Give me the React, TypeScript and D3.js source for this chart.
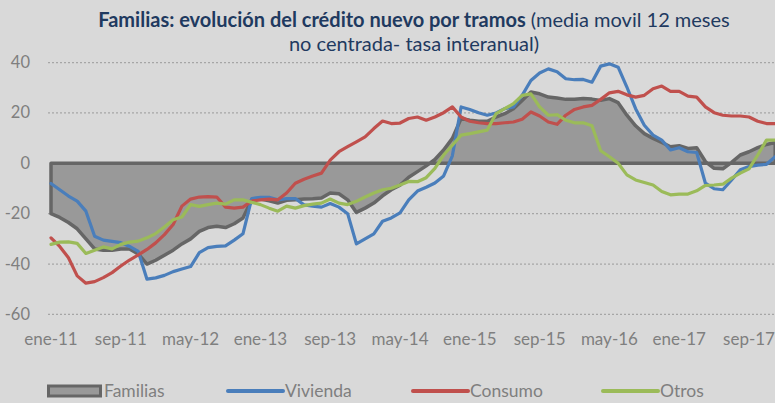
import React from 'react';
import * as d3 from 'd3';

const MONTHS = ['ene', 'feb', 'mar', 'abr', 'may', 'jun', 'jul', 'ago', 'sep', 'oct', 'nov', 'dic'];
// monthly periods ene-11 .. dic-17
const periods = d3.range(84).map((i) => `${MONTHS[i % 12]}-${11 + Math.floor(i / 12)}`);
const tickLabels = ['ene-11', 'sep-11', 'may-12', 'ene-13', 'sep-13', 'may-14', 'ene-15', 'sep-15', 'may-16', 'ene-17', 'sep-17'];
const yTicks = [-60, -40, -20, 0, 20, 40];

const familias = [
  -20, -21.5, -23.5, -26, -30, -34, -34.5, -34.5, -34, -34, -36, -40,
  -38.5, -36.5, -34.5, -32, -30, -27, -25.5, -25, -25.5, -24, -21.7, -14.5,
  -14.2, -14.9, -15.8, -14.7, -14.5, -14.2, -14.1, -13.8, -11.8, -12.1, -14.5, -19.5,
  -17.8, -15.8, -12.9, -10.5, -8.7, -5.5, -3.3, -1, 1.5, 5.3, 9.9, 17.8,
  17.1, 16.7, 16.7, 18.4, 19.7, 21.7, 25, 28.3, 27.6, 26.3, 25.9, 25.4,
  25.4, 25.7, 25.5, 25, 25.7, 24.1, 19.1, 14.9, 11.8, 9.9, 8.3, 6.6,
  7, 5.9, 6.2, 0.7, -2, -2.2, 0.4, 3.3, 4.6, 6.2, 7.5, 8.3
];
const vivienda = [
  -8, -10.5, -13, -15, -19, -29, -30.5, -31, -31.5, -33, -35, -46,
  -45.5, -44.5, -43, -42, -41, -35.5, -33.5, -33, -32.8, -30.5, -28, -14,
  -13.5, -13.5, -14.5, -14, -14, -16.5, -17, -17.4, -16, -17.4, -20, -32,
  -30, -28, -23, -21.7, -19.7, -14.5, -11, -9.5, -7.8, -5, 3, 22.4,
  21.4, 20.1, 19.1, 20, 21.7, 22.4, 27, 32.9, 35.9, 37.5, 36.4, 33.6,
  33.2, 33.3, 32.2, 38.6, 39.5, 38.2, 30.3, 21.7, 15.1, 11.2, 9.2, 5.3,
  6.2, 4.6, 4.3, -7.9, -10.1, -10.5, -6.6, -2.6, -1.3, -0.7, -0.4, 2.6
];
const consumo = [
  -29.6, -33, -37.5, -44.7, -47.6, -47, -45.4, -43.4, -40.8, -38.4, -36.4, -34.2,
  -31.6, -28.3, -24.3, -17, -14.2, -13.4, -13.2, -13.4, -17.4, -17.8, -17.4, -15,
  -14.5, -14.2, -14.5, -11.8, -7.9, -6.3, -5, -3.9, 1.3, 4.6, 6.6, 8.5,
  10.5, 13.8, 16.8, 15.8, 16, 17.8, 18.4, 17.1, 18.4, 20.1, 22.4, 18.4,
  16.7, 16.1, 15.8, 15.8, 16.1, 16.4, 17.5, 20.4, 18.8, 16.4, 15.5, 19.1,
  21.4, 22.4, 23, 25.4, 28, 28.6, 27.2, 26.3, 27, 29.6, 30.7, 28.6,
  28.6, 26.7, 26.3, 22.4, 20.1, 19.1, 18.8, 18.8, 18.4, 16.7, 15.8, 15.8
];
const otros = [
  -32.2, -31.3, -31.2, -31.8, -35.8, -34.5, -33.2, -34, -32.2, -31.3, -30.9, -29.6,
  -27.9, -25.3, -22.4, -21.3, -16.4, -17.1, -16.4, -15.8, -16.2, -14.5, -14.5, -15.5,
  -16.4, -17.8, -19, -17, -17.8, -16.8, -16.2, -15.8, -14.2, -15.8, -16.4, -15.1,
  -13.4, -11.8, -10.5, -9.9, -8.6, -7.2, -7.3, -5.7, -2, 3.3, 7.2, 11.2,
  11.8, 12.5, 13.2, 19.7, 21.7, 23.7, 27, 27.6, 22.4, 19.1, 19.3, 17.1,
  16.1, 16.1, 14.9, 5, 2.6, 0, -4.6, -6.6, -7.6, -8.6, -11.2, -12.5,
  -12.2, -12.2, -10.9, -8.8, -8.6, -8.3, -5.9, -3.9, -2.2, 3.3, 9.2, 9.2
];

const lineSeries = [
  { name: 'Vivienda', values: vivienda, color: '#4A7EBB' },
  { name: 'Consumo', values: consumo, color: '#C0504D' },
  { name: 'Otros', values: otros, color: '#9BBB59' }
];

const W = 775;
const H = 403;
const FONT = 'Lato, "Open Sans", sans-serif';
const AXIS_COLOR = '#7F7F7F';
const TITLE_COLOR = '#1F3A60';

const App = () => {
  const x = d3.scalePoint<string>().domain(periods).range([51, 775.2]);
  const y = d3.scaleLinear().domain([-60, 40]).range([314.4, 62.6]);

  const area = d3
    .area<number>()
    .x((_, i) => x(periods[i]) as number)
    .y0(y(0))
    .y1((d) => y(d));

  const line = d3
    .line<number>()
    .x((_, i) => x(periods[i]) as number)
    .y((d) => y(d));

  const legend = [
    { name: 'Familias', x: 47, type: 'area', color: '#999999' },
    { name: 'Vivienda', x: 228, type: 'line', color: '#4A7EBB' },
    { name: 'Consumo', x: 413, type: 'line', color: '#C0504D' },
    { name: 'Otros', x: 603, type: 'line', color: '#9BBB59' }
  ];

  return (
    <svg
      width={W}
      height={H}
      style={{ position: 'absolute', left: 0, top: 0, background: '#D9D9D9' }}
      fontFamily={FONT}
    >
      <rect width={W} height={H} fill="#D9D9D9" />

      {/* title */}
      <text x={414} y={27} textAnchor="middle" fontSize={20} fill={TITLE_COLOR}>
        <tspan fontWeight="bold">Familias: evolución del crédito nuevo por tramos</tspan>
        <tspan> (media movil 12 meses</tspan>
      </text>
      <text x={414} y={51} textAnchor="middle" fontSize={20} fill={TITLE_COLOR}>
        no centrada- tasa interanual)
      </text>

      {/* grid */}
      {yTicks.map((t) => (
        <g key={t}>
          {t !== 0 && (
            <line
              x1={48}
              x2={W}
              y1={y(t)}
              y2={y(t)}
              stroke="#A6A6A6"
              strokeWidth={1.2}
              strokeDasharray="2,2"
            />
          )}
          <text x={30} y={y(t) + 5.5} textAnchor="end" fontSize={16.5} fill={AXIS_COLOR}>
            {t}
          </text>
        </g>
      ))}

      {/* x labels */}
      {tickLabels.map((t) => (
        <text key={t} x={x(t) as number} y={345} textAnchor="middle" fontSize={17} fill={AXIS_COLOR}>
          {t}
        </text>
      ))}

      {/* Familias area */}
      <path d={area(familias) as string} fill="#999999" stroke="#666666" strokeWidth={3.5} strokeLinejoin="round" />

      {lineSeries.map((s) => (
        <path
          key={s.name}
          d={line(s.values) as string}
          fill="none"
          stroke={s.color}
          strokeWidth={3.2}
          strokeLinejoin="round"
          strokeLinecap="round"
        />
      ))}

      {/* legend */}
      {legend.map((l) => (
        <g key={l.name}>
          {l.type === 'area' ? (
            <rect x={l.x + 1.5} y={386} width={52} height={10} fill={l.color} stroke="#666666" strokeWidth={3} />
          ) : (
            <line x1={l.x} x2={l.x + 55} y1={391} y2={391} stroke={l.color} strokeWidth={4} strokeLinecap="round" />
          )}
          <text x={l.x + 57} y={397} fontSize={17.5} fill={AXIS_COLOR}>
            {l.name}
          </text>
        </g>
      ))}
    </svg>
  );
};

export default App;
